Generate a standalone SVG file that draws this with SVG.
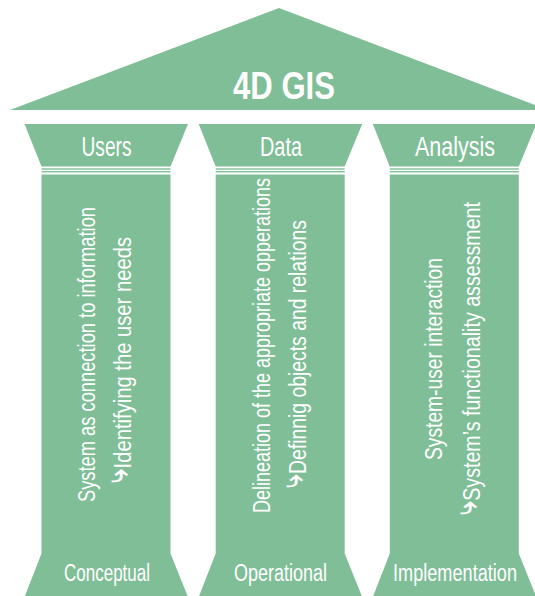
<svg xmlns="http://www.w3.org/2000/svg" xmlns:xlink="http://www.w3.org/1999/xlink" width="535" height="596" viewBox="0 0 535 596">
<style>
.g{fill:#80be98}
.t{fill:#ffffff;font-family:"Liberation Sans","DejaVu Sans",sans-serif}
.title{font-size:38px;font-weight:bold;text-anchor:middle}
.head{font-size:27px;text-anchor:middle}
.foot{font-size:23px;text-anchor:middle}
.v{font-size:23.5px}
.ar{font-family:"DejaVu Sans",sans-serif;font-size:30px;font-weight:bold}
</style>
<defs>
<g id="pillar">
<polygon class="g" points="24.5,124 188,124 170.5,166.5 41.5,166.5"/>
<rect class="g" x="41.5" y="168.3" width="129" height="1.4"/>
<rect class="g" x="41.5" y="171" width="129" height="1.4"/>
<polygon class="g" points="41.5,174.5 170.5,174.5 170.5,553.5 188,597 24.5,597 41.5,553.5"/>
</g>
</defs>
<rect width="535" height="596" fill="#ffffff"/>
<g id="roof">
<polygon class="g" points="279,8 10,110 548,110"/>
<text class="t title" x="284" y="99" textLength="102" lengthAdjust="spacingAndGlyphs">4D GIS</text>
</g>
<g id="users">
<use xlink:href="#pillar"/>
<text class="t head" x="106.5" y="156" textLength="50" lengthAdjust="spacingAndGlyphs">Users</text>
<text class="t v" transform="translate(95,502) rotate(-90)" textLength="295" lengthAdjust="spacingAndGlyphs">System as connection to information</text>
<text class="t v" transform="translate(131,483) rotate(-90)" textLength="246" lengthAdjust="spacingAndGlyphs"><tspan class="ar" dy="-4">⤷</tspan><tspan dy="4">Identifying the user needs</tspan></text>
<text class="t foot" x="107" y="581" textLength="86" lengthAdjust="spacingAndGlyphs">Conceptual</text>
</g>
<g id="data">
<use xlink:href="#pillar" transform="translate(174.2,0)"/>
<text class="t head" x="281" y="156" textLength="42" lengthAdjust="spacingAndGlyphs">Data</text>
<text class="t v" transform="translate(270,513) rotate(-90)" textLength="335" lengthAdjust="spacingAndGlyphs">Delineation of the appropriate opperations</text>
<text class="t v" transform="translate(306,488) rotate(-90)" textLength="268" lengthAdjust="spacingAndGlyphs"><tspan class="ar" dy="-4">⤷</tspan><tspan dy="4">Definnig objects and relations</tspan></text>
<text class="t foot" x="280.5" y="581" textLength="93" lengthAdjust="spacingAndGlyphs">Operational</text>
</g>
<g id="analysis">
<use xlink:href="#pillar" transform="translate(348.3,0)"/>
<text class="t head" x="455" y="156" textLength="80" lengthAdjust="spacingAndGlyphs">Analysis</text>
<text class="t v" transform="translate(442,460) rotate(-90)" textLength="202" lengthAdjust="spacingAndGlyphs">System-user interaction</text>
<text class="t v" transform="translate(480,515) rotate(-90)" textLength="313" lengthAdjust="spacingAndGlyphs"><tspan class="ar" dy="-4">⤷</tspan><tspan dy="4">System’s functionality assessment</tspan></text>
<text class="t foot" x="455" y="581" textLength="124" lengthAdjust="spacingAndGlyphs">Implementation</text>
</g>
<g id="connectors"/>
</svg>
